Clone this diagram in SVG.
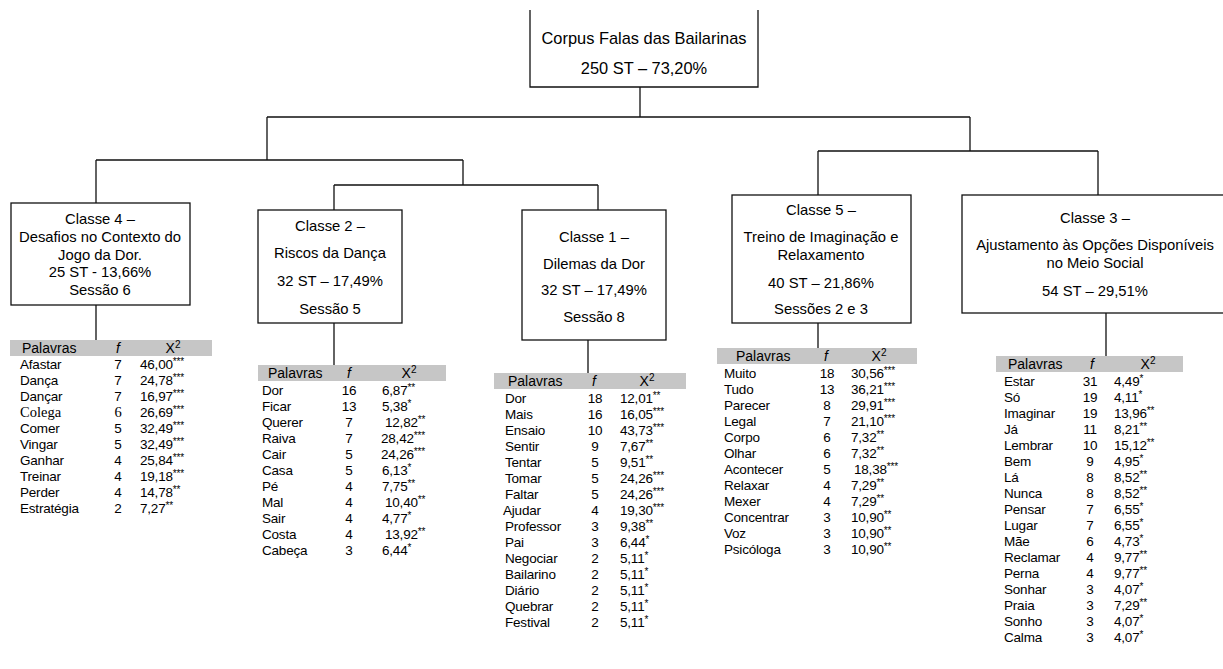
<svg xmlns="http://www.w3.org/2000/svg" width="1223" height="669" viewBox="0 0 1223 669">
<style>
text{font-family:"Liberation Sans",Arial,sans-serif;fill:#000}
.box{fill:#fff;stroke:#111;stroke-width:1.3}
.c{font-size:14.8px;text-anchor:middle}
.top{font-size:16.4px;text-anchor:middle}
.bar{fill:#c6c6c6}
.h{font-size:14px}
.hm{font-size:14px;text-anchor:middle}
.t{font-size:13.5px;letter-spacing:-0.2px}
.m{text-anchor:middle}
.s{font-size:10px}
.serif{font-family:"Liberation Serif","Times New Roman",serif;font-size:14.5px;letter-spacing:0}
#connectors path{fill:none;stroke:#111;stroke-width:1.3}
</style>
<rect width="1223" height="669" fill="#fff"/>
<g id="connectors">
<path d="M640,87V117M267,117H970M267,117V160M96,160H463M96,160V203M463,160V185M334,185H598M334,185V210M598,185V210M970,117V151M818,151H1098M818,151V195M1098,151V195"/>
<path d="M96,305V340M334,323V365M588,340V373M818,323V348M1106,313V356"/>
</g>
<g id="root">
<path class="box" d="M530,10V87H758V10"/>
<text class="top" x="644" y="44">Corpus Falas das Bailarinas</text>
<text class="top" x="644" y="74">250 ST – 73,20%</text>
</g>
<g id="classe4">
<rect class="box" x="11" y="203" width="179" height="102"/>
<text class="c" x="100" y="224">Classe 4 –</text>
<text class="c" x="100" y="242">Desafios no Contexto do</text>
<text class="c" x="100" y="260">Jogo da Dor.</text>
<text class="c" x="100" y="277">25 ST - 13,66%</text>
<text class="c" x="100" y="295">Sessão 6</text>
</g>
<g id="classe2">
<rect class="box" x="258" y="210" width="144" height="113"/>
<text class="c" x="330" y="231">Classe 2 –</text>
<text class="c" x="330" y="258">Riscos da Dança</text>
<text class="c" x="330" y="286">32 ST – 17,49%</text>
<text class="c" x="330" y="314">Sessão 5</text>
</g>
<g id="classe1">
<rect class="box" x="522" y="210" width="144" height="130"/>
<text class="c" x="594" y="242">Classe 1 –</text>
<text class="c" x="594" y="269">Dilemas da Dor</text>
<text class="c" x="594" y="295">32 ST – 17,49%</text>
<text class="c" x="594" y="322">Sessão 8</text>
</g>
<g id="classe5">
<rect class="box" x="732" y="195" width="179" height="128"/>
<text class="c" x="821" y="215">Classe 5 –</text>
<text class="c" x="821" y="242">Treino de Imaginação e</text>
<text class="c" x="821" y="260">Relaxamento</text>
<text class="c" x="821" y="288">40 ST – 21,86%</text>
<text class="c" x="821" y="314">Sessões 2 e 3</text>
</g>
<g id="classe3">
<rect class="box" x="962" y="195" width="268" height="118"/>
<text class="c" x="1095" y="223">Classe 3 –</text>
<text class="c" x="1095" y="250">Ajustamento às Opções Disponíveis</text>
<text class="c" x="1095" y="268">no Meio Social</text>
<text class="c" x="1095" y="296">54 ST – 29,51%</text>
</g>
<g id="tabela4">
<rect class="bar" x="10" y="340" width="202" height="16"/>
<text class="h" x="22" y="353">Palavras</text>
<text class="hm" x="118" y="353" font-style="italic">f</text>
<text class="hm" x="173" y="353">X<tspan class="s" dy="-5">2</tspan></text>
<g class="t">
<text x="20" y="368.5">Afastar</text><text class="m" x="118" y="368.5">7</text><text x="140" y="368.5">46,00<tspan class="s" dy="-4">***</tspan></text>
<text x="20" y="384.6">Dança</text><text class="m" x="118" y="384.6">7</text><text x="140" y="384.6">24,78<tspan class="s" dy="-4">***</tspan></text>
<text x="20" y="400.7">Dançar</text><text class="m" x="118" y="400.7">7</text><text x="140" y="400.7">16,97<tspan class="s" dy="-4">***</tspan></text>
<text class="serif" x="20" y="416.8">Colega</text><text class="serif m" x="118" y="416.8">6</text><text x="140" y="416.8">26,69<tspan class="s" dy="-4">***</tspan></text>
<text x="20" y="432.9">Comer</text><text class="m" x="118" y="432.9">5</text><text x="140" y="432.9">32,49<tspan class="s" dy="-4">***</tspan></text>
<text x="20" y="449">Vingar</text><text class="m" x="118" y="449">5</text><text x="140" y="449">32,49<tspan class="s" dy="-4">***</tspan></text>
<text x="20" y="465.1">Ganhar</text><text class="m" x="118" y="465.1">4</text><text x="140" y="465.1">25,84<tspan class="s" dy="-4">***</tspan></text>
<text x="20" y="481.2">Treinar</text><text class="m" x="118" y="481.2">4</text><text x="140" y="481.2">19,18<tspan class="s" dy="-4">***</tspan></text>
<text x="20" y="497.3">Perder</text><text class="m" x="118" y="497.3">4</text><text x="140" y="497.3">14,78<tspan class="s" dy="-4">**</tspan></text>
<text x="20" y="513.4">Estratégia</text><text class="m" x="118" y="513.4">2</text><text x="140" y="513.4">7,27<tspan class="s" dy="-4">**</tspan></text>
</g>
</g>
<g id="tabela2">
<rect class="bar" x="258" y="365" width="188" height="16"/>
<text class="h" x="268" y="378">Palavras</text>
<text class="hm" x="349" y="378" font-style="italic">f</text>
<text class="hm" x="409" y="378">X<tspan class="s" dy="-5">2</tspan></text>
<g class="t">
<text x="262" y="394.5">Dor</text><text class="m" x="349" y="394.5">16</text><text x="382" y="394.5">6,87<tspan class="s" dy="-4">**</tspan></text>
<text x="262" y="410.5">Ficar</text><text class="m" x="349" y="410.5">13</text><text x="382" y="410.5">5,38<tspan class="s" dy="-4">*</tspan></text>
<text x="262" y="426.5">Querer</text><text class="m" x="349" y="426.5">7</text><text x="385" y="426.5">12,82<tspan class="s" dy="-4">**</tspan></text>
<text x="262" y="442.5">Raiva</text><text class="m" x="349" y="442.5">7</text><text x="381" y="442.5">28,42<tspan class="s" dy="-4">***</tspan></text>
<text x="262" y="458.5">Cair</text><text class="m" x="349" y="458.5">5</text><text x="381" y="458.5">24,26<tspan class="s" dy="-4">***</tspan></text>
<text x="262" y="474.5">Casa</text><text class="m" x="349" y="474.5">5</text><text x="382" y="474.5">6,13<tspan class="s" dy="-4">*</tspan></text>
<text x="262" y="490.5">Pé</text><text class="m" x="349" y="490.5">4</text><text x="382" y="490.5">7,75<tspan class="s" dy="-4">**</tspan></text>
<text x="262" y="506.5">Mal</text><text class="m" x="349" y="506.5">4</text><text x="385" y="506.5">10,40<tspan class="s" dy="-4">**</tspan></text>
<text x="262" y="522.5">Sair</text><text class="m" x="349" y="522.5">4</text><text x="382" y="522.5">4,77<tspan class="s" dy="-4">*</tspan></text>
<text x="262" y="538.5">Costa</text><text class="m" x="349" y="538.5">4</text><text x="385" y="538.5">13,92<tspan class="s" dy="-4">**</tspan></text>
<text x="262" y="554.5">Cabeça</text><text class="m" x="349" y="554.5">3</text><text x="382" y="554.5">6,44<tspan class="s" dy="-4">*</tspan></text>
</g>
</g>
<g id="tabela1">
<rect class="bar" x="494" y="373" width="192" height="16"/>
<text class="h" x="508" y="386">Palavras</text>
<text class="hm" x="594" y="386" font-style="italic">f</text>
<text class="hm" x="647" y="386">X<tspan class="s" dy="-5">2</tspan></text>
<g class="t">
<text x="505" y="402.5">Dor</text><text class="m" x="595" y="402.5">18</text><text x="620" y="402.5">12,01<tspan class="s" dy="-4">**</tspan></text>
<text x="505" y="418.5">Mais</text><text class="m" x="595" y="418.5">16</text><text x="620" y="418.5">16,05<tspan class="s" dy="-4">***</tspan></text>
<text x="505" y="434.5">Ensaio</text><text class="m" x="595" y="434.5">10</text><text x="620" y="434.5">43,73<tspan class="s" dy="-4">***</tspan></text>
<text x="505" y="450.5">Sentir</text><text class="m" x="595" y="450.5">9</text><text x="620" y="450.5">7,67<tspan class="s" dy="-4">**</tspan></text>
<text x="505" y="466.5">Tentar</text><text class="m" x="595" y="466.5">5</text><text x="620" y="466.5">9,51<tspan class="s" dy="-4">**</tspan></text>
<text x="505" y="482.5">Tomar</text><text class="m" x="595" y="482.5">5</text><text x="620" y="482.5">24,26<tspan class="s" dy="-4">***</tspan></text>
<text x="505" y="498.5">Faltar</text><text class="m" x="595" y="498.5">5</text><text x="620" y="498.5">24,26<tspan class="s" dy="-4">***</tspan></text>
<text x="503" y="514.5">Ajudar</text><text class="m" x="595" y="514.5">4</text><text x="620" y="514.5">19,30<tspan class="s" dy="-4">***</tspan></text>
<text x="505" y="530.5">Professor</text><text class="m" x="595" y="530.5">3</text><text x="620" y="530.5">9,38<tspan class="s" dy="-4">**</tspan></text>
<text x="505" y="546.5">Pai</text><text class="m" x="595" y="546.5">3</text><text x="620" y="546.5">6,44<tspan class="s" dy="-4">*</tspan></text>
<text x="505" y="562.5">Negociar</text><text class="m" x="595" y="562.5">2</text><text x="620" y="562.5">5,11<tspan class="s" dy="-4">*</tspan></text>
<text x="505" y="578.5">Bailarino</text><text class="m" x="595" y="578.5">2</text><text x="620" y="578.5">5,11<tspan class="s" dy="-4">*</tspan></text>
<text x="505" y="594.5">Diário</text><text class="m" x="595" y="594.5">2</text><text x="620" y="594.5">5,11<tspan class="s" dy="-4">*</tspan></text>
<text x="505" y="610.5">Quebrar</text><text class="m" x="595" y="610.5">2</text><text x="620" y="610.5">5,11<tspan class="s" dy="-4">*</tspan></text>
<text x="505" y="626.5">Festival</text><text class="m" x="595" y="626.5">2</text><text x="620" y="626.5">5,11<tspan class="s" dy="-4">*</tspan></text>
</g>
</g>
<g id="tabela5">
<rect class="bar" x="717" y="348" width="200" height="16"/>
<text class="h" x="736" y="361">Palavras</text>
<text class="hm" x="826" y="361" font-style="italic">f</text>
<text class="hm" x="879" y="361">X<tspan class="s" dy="-5">2</tspan></text>
<g class="t">
<text x="724" y="377.5">Muito</text><text class="m" x="827" y="377.5">18</text><text x="851" y="377.5">30,56<tspan class="s" dy="-4">***</tspan></text>
<text x="724" y="393.5">Tudo</text><text class="m" x="827" y="393.5">13</text><text x="851" y="393.5">36,21<tspan class="s" dy="-4">***</tspan></text>
<text x="724" y="409.5">Parecer</text><text class="m" x="827" y="409.5">8</text><text x="851" y="409.5">29,91<tspan class="s" dy="-4">***</tspan></text>
<text x="724" y="425.5">Legal</text><text class="m" x="827" y="425.5">7</text><text x="851" y="425.5">21,10<tspan class="s" dy="-4">***</tspan></text>
<text x="724" y="441.5">Corpo</text><text class="m" x="827" y="441.5">6</text><text x="851" y="441.5">7,32<tspan class="s" dy="-4">**</tspan></text>
<text x="724" y="457.5">Olhar</text><text class="m" x="827" y="457.5">6</text><text x="851" y="457.5">7,32<tspan class="s" dy="-4">**</tspan></text>
<text x="724" y="473.5">Acontecer</text><text class="m" x="827" y="473.5">5</text><text x="854" y="473.5">18,38<tspan class="s" dy="-4">***</tspan></text>
<text x="724" y="489.5">Relaxar</text><text class="m" x="827" y="489.5">4</text><text x="851" y="489.5">7,29<tspan class="s" dy="-4">**</tspan></text>
<text x="724" y="505.5">Mexer</text><text class="m" x="827" y="505.5">4</text><text x="851" y="505.5">7,29<tspan class="s" dy="-4">**</tspan></text>
<text x="724" y="521.5">Concentrar</text><text class="m" x="827" y="521.5">3</text><text x="851" y="521.5">10,90<tspan class="s" dy="-4">**</tspan></text>
<text x="724" y="537.5">Voz</text><text class="m" x="827" y="537.5">3</text><text x="851" y="537.5">10,90<tspan class="s" dy="-4">**</tspan></text>
<text x="724" y="553.5">Psicóloga</text><text class="m" x="827" y="553.5">3</text><text x="851" y="553.5">10,90<tspan class="s" dy="-4">**</tspan></text>
</g>
</g>
<g id="tabela3">
<rect class="bar" x="996" y="356" width="187" height="16"/>
<text class="h" x="1008" y="369">Palavras</text>
<text class="hm" x="1092" y="369" font-style="italic">f</text>
<text class="hm" x="1148" y="369">X<tspan class="s" dy="-5">2</tspan></text>
<g class="t">
<text x="1004" y="385.5">Estar</text><text class="m" x="1090" y="385.5">31</text><text x="1114" y="385.5">4,49<tspan class="s" dy="-4">*</tspan></text>
<text x="1004" y="401.5">Só</text><text class="m" x="1090" y="401.5">19</text><text x="1114" y="401.5">4,11<tspan class="s" dy="-4">*</tspan></text>
<text x="1004" y="417.5">Imaginar</text><text class="m" x="1090" y="417.5">19</text><text x="1114" y="417.5">13,96<tspan class="s" dy="-4">**</tspan></text>
<text x="1004" y="433.5">Já</text><text class="m" x="1090" y="433.5">11</text><text x="1114" y="433.5">8,21<tspan class="s" dy="-4">**</tspan></text>
<text x="1004" y="449.5">Lembrar</text><text class="m" x="1090" y="449.5">10</text><text x="1114" y="449.5">15,12<tspan class="s" dy="-4">**</tspan></text>
<text x="1004" y="465.5">Bem</text><text class="m" x="1090" y="465.5">9</text><text x="1114" y="465.5">4,95<tspan class="s" dy="-4">*</tspan></text>
<text x="1004" y="481.5">Lá</text><text class="m" x="1090" y="481.5">8</text><text x="1114" y="481.5">8,52<tspan class="s" dy="-4">**</tspan></text>
<text x="1004" y="497.5">Nunca</text><text class="m" x="1090" y="497.5">8</text><text x="1114" y="497.5">8,52<tspan class="s" dy="-4">**</tspan></text>
<text x="1004" y="513.5">Pensar</text><text class="m" x="1090" y="513.5">7</text><text x="1114" y="513.5">6,55<tspan class="s" dy="-4">*</tspan></text>
<text x="1004" y="529.5">Lugar</text><text class="m" x="1090" y="529.5">7</text><text x="1114" y="529.5">6,55<tspan class="s" dy="-4">*</tspan></text>
<text x="1004" y="545.5">Mãe</text><text class="m" x="1090" y="545.5">6</text><text x="1114" y="545.5">4,73<tspan class="s" dy="-4">*</tspan></text>
<text x="1004" y="561.5">Reclamar</text><text class="m" x="1090" y="561.5">4</text><text x="1114" y="561.5">9,77<tspan class="s" dy="-4">**</tspan></text>
<text x="1004" y="577.5">Perna</text><text class="m" x="1090" y="577.5">4</text><text x="1114" y="577.5">9,77<tspan class="s" dy="-4">**</tspan></text>
<text x="1004" y="593.5">Sonhar</text><text class="m" x="1090" y="593.5">3</text><text x="1114" y="593.5">4,07<tspan class="s" dy="-4">*</tspan></text>
<text x="1004" y="609.5">Praia</text><text class="m" x="1090" y="609.5">3</text><text x="1114" y="609.5">7,29<tspan class="s" dy="-4">**</tspan></text>
<text x="1004" y="625.5">Sonho</text><text class="m" x="1090" y="625.5">3</text><text x="1114" y="625.5">4,07<tspan class="s" dy="-4">*</tspan></text>
<text x="1004" y="641.5">Calma</text><text class="m" x="1090" y="641.5">3</text><text x="1114" y="641.5">4,07<tspan class="s" dy="-4">*</tspan></text>
</g>
</g>
</svg>
